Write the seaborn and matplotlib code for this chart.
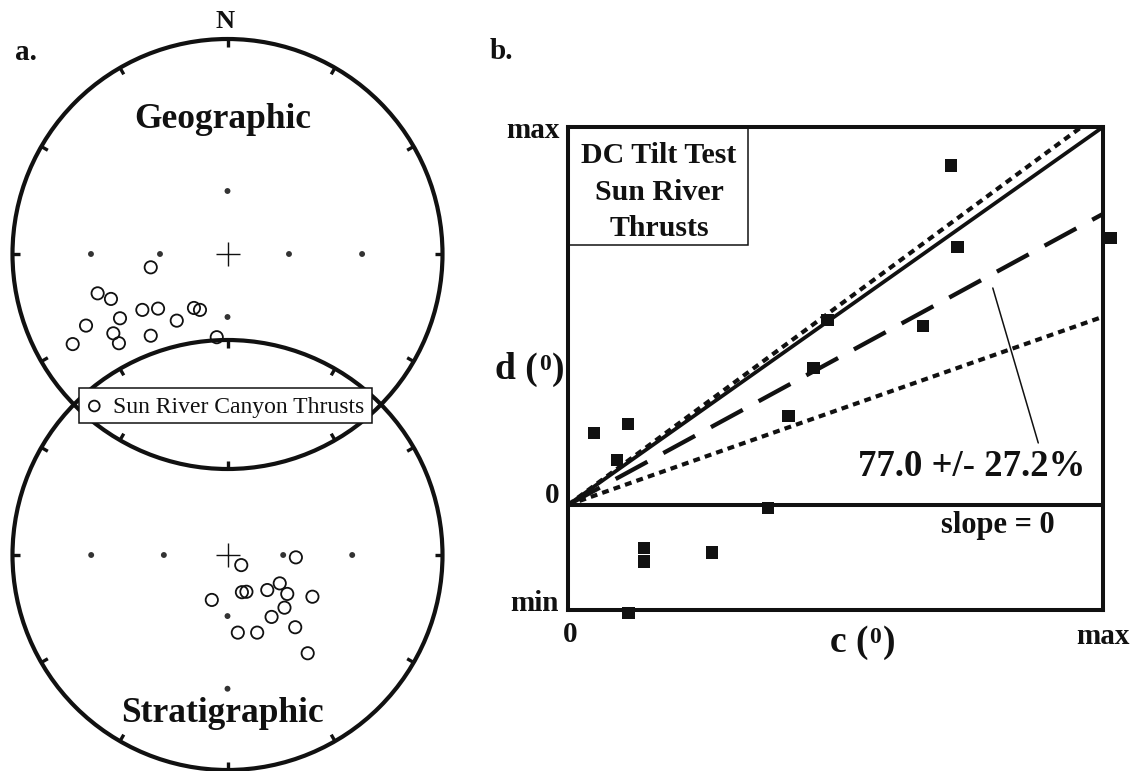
import numpy as np
import pandas as pd
import matplotlib
matplotlib.use("Agg")
import matplotlib.pyplot as plt
from matplotlib.patches import Circle, Rectangle
import seaborn as sns

# ---------------- data ----------------
# site mean directions projected on the nets (east, north in net radius units)
geo_east = [-0.357, -0.604, -0.542, -0.396, -0.323, -0.156, -0.128, -0.500,
            -0.236, -0.658, -0.531, -0.357, -0.505, -0.720, -0.050]
geo_north = [-0.062, -0.183, -0.209, -0.260, -0.254, -0.251, -0.260, -0.299,
             -0.310, -0.333, -0.369, -0.380, -0.415, -0.419, -0.387]
strat_east = [0.318, 0.064, 0.243, 0.067, 0.088, 0.185, 0.278, 0.395,
              -0.073, 0.265, 0.205, 0.048, 0.138, 0.315, 0.373]
strat_north = [-0.011, -0.047, -0.132, -0.173, -0.171, -0.163, -0.181, -0.194,
               -0.209, -0.245, -0.288, -0.361, -0.361, -0.336, -0.457]
# small reference dots on the nets
geo_ref_east = [0.0, -0.635, -0.314, 0.286, 0.626, 0.0]
geo_ref_north = [0.293, 0.0, 0.0, 0.0, 0.0, -0.293]
strat_ref_east = [-0.634, -0.296, 0.259, 0.580, 0.0, 0.0]
strat_ref_north = [0.0, 0.0, 0.0, 0.0, -0.284, -0.622]
net_tick_azimuths = [0, 30, 60, 90, 120, 150, 180, 210, 240, 270, 300, 330]
legend_label = "Sun River Canyon Thrusts"

# DC tilt test: c and d (normalised to max)
tilt_c = [0.049, 0.112, 0.091, 0.485, 0.459, 0.412, 0.374, 0.142, 0.142,
          0.269, 0.113, 0.716, 0.728, 0.663, 1.014]
tilt_d = [0.190, 0.214, 0.119, 0.489, 0.362, 0.235, -0.009, -0.113, -0.150,
          -0.126, -0.285, 0.898, 0.683, 0.474, 0.707]
d_min = -0.278
tilt_best = 77.0   # percent unfolding
tilt_err = 27.2

# ---------------- style ----------------
sns.set_theme(style="white")
plt.rcParams["font.family"] = ["Liberation Serif", "DejaVu Serif"]

INK = "#111111"
W, H = 1133, 771
fig = plt.figure(figsize=(W / 100, H / 100), dpi=100)
fig.patch.set_facecolor("white")


def rect(x0, y0, x1, y1):
    return [x0 / W, 1 - y1 / H, (x1 - x0) / W, (y1 - y0) / H]


# ---------------- left panel: nets ----------------
CX, CY, R = 227.5, 254.0, 215.0
axL = fig.add_axes(rect(0, 0, 460, 771))
axL.set_xlim((0 - CX) / R, (460 - CX) / R)
axL.set_ylim((CY - 771) / R, CY / R)
axL.axis("off")


def P(px, py):
    return ((px - CX) / R, (CY - py) / R)


net_centers = [0.0, (CY - 555.0) / R]
for cy in net_centers:
    axL.add_patch(Circle((0, cy), 1.0, fill=False, lw=3.0, ec=INK, zorder=2))
    for az in net_tick_azimuths:
        a = np.deg2rad(az)
        axL.plot([np.sin(a), 0.965 * np.sin(a)],
                 [cy + np.cos(a), cy + 0.965 * np.cos(a)],
                 color=INK, lw=2.4, solid_capstyle="butt", zorder=2)
    axL.plot([0], [cy], marker="+", markersize=17, mew=1.0, color=INK, zorder=3)

geo_df = pd.DataFrame({"e": geo_east, "n": geo_north})
strat_df = pd.DataFrame({"e": strat_east, "n": [v + net_centers[1] for v in strat_north]})
sns.scatterplot(data=geo_df, x="e", y="n", ax=axL, marker="o", s=78,
                facecolors="none", edgecolor=INK, linewidth=1.3, zorder=4)
sns.scatterplot(data=strat_df, x="e", y="n", ax=axL, marker="o", s=78,
                facecolors="none", edgecolor=INK, linewidth=1.3, zorder=4)
ref_df = pd.DataFrame({"e": geo_ref_east + strat_ref_east,
                       "n": geo_ref_north + [v + net_centers[1] for v in strat_ref_north]})
sns.scatterplot(data=ref_df, x="e", y="n", ax=axL, marker="o", s=18,
                color="#333333", edgecolor="none", zorder=3)

# legend box
lx0, ly1 = P(79, 387.7)
lx1, ly0 = P(372.3, 422.7)
axL.add_patch(Rectangle((lx0, ly0), lx1 - lx0, ly1 - ly0, facecolor="white",
                        edgecolor=INK, lw=1.1, zorder=6))
mx, my = P(94.3, 406)
axL.scatter([mx], [my], s=60, facecolors="none", edgecolors=INK,
            linewidths=1.3, zorder=7)
tx, ty = P(112.7, 413.3)
axL.text(tx, ty, legend_label, fontsize=17, va="baseline", ha="left",
         color=INK, zorder=7)

x, y = P(222.5, 128)
axL.text(x, y, "Geographic", fontsize=25.5, fontweight="bold", ha="center",
         va="baseline", color=INK)
x, y = P(222.5, 721.7)
axL.text(x, y, "Stratigraphic", fontsize=25.5, fontweight="bold", ha="center",
         va="baseline", color=INK)

fig.text(225 / W, 1 - 21 / H, "N", fontsize=19, fontweight="bold",
         ha="center", va="center", color=INK)
fig.text(15 / W, 1 - 60 / H, "a.", fontsize=21, fontweight="bold",
         ha="left", va="baseline", color=INK)
fig.text(490 / W, 1 - 59 / H, "b.", fontsize=21, fontweight="bold",
         ha="left", va="baseline", color=INK)

# ---------------- right panel: DC tilt test ----------------
axR = fig.add_axes(rect(568, 127, 1103, 610))
axR.set_xlim(0, 1)
axR.set_ylim(d_min, 1)
axR.set_xticks([])
axR.set_yticks([])
for sp in axR.spines.values():
    sp.set_linewidth(2.9)
    sp.set_color(INK)
    sp.set_visible(True)
axR.set_facecolor("white")
axR.axhline(0, color=INK, lw=2.9, zorder=2)

s_best = tilt_best / 100.0
s_hi = (tilt_best + tilt_err) / 100.0
s_lo = (tilt_best - tilt_err) / 100.0
axR.plot([0, 1], [0, 1], color=INK, lw=2.7, solid_capstyle="butt", zorder=3)
axR.plot([0, 1 / s_hi], [0, 1], color=INK, lw=3.0,
         linestyle=(0, (1.65, 1.25)), dash_capstyle="butt", zorder=3)
axR.plot([0, 1], [0, s_lo], color=INK, lw=3.0,
         linestyle=(0, (1.65, 1.25)), dash_capstyle="butt", zorder=3)
axR.plot([0, 1], [0, s_best], color=INK, lw=3.1,
         linestyle=(0, (8.4, 4.2)), dash_capstyle="butt", zorder=3)
# leader line to the label
axR.plot([0.794, 0.879], [0.574, 0.164], color=INK, lw=1.1, zorder=3)

tilt_df = pd.DataFrame({"c": tilt_c, "d": tilt_d})
sns.scatterplot(data=tilt_df, x="c", y="d", ax=axR, marker="s", s=78,
                color=INK, edgecolor="none", clip_on=False, zorder=5)
axR.set_xlabel("")
axR.set_ylabel("")

# inset title box
axR.add_patch(Rectangle((0, 0.688), 0.336, 1 - 0.688, fill=False,
                        ec=INK, lw=1.1, zorder=4))
for txt, yy in zip(["DC Tilt Test", "Sun River", "Thrusts"], [0.924, 0.827, 0.731]):
    axR.text(0.170, yy, txt, fontsize=21.5, fontweight="bold", ha="center",
             va="center", color=INK)

axR.text(0.755, 0.077, f"{tilt_best:.1f} +/- {tilt_err:.1f}%", fontsize=26.5,
         fontweight="bold", ha="center", va="baseline", color=INK)
axR.text(0.804, -0.074, "slope = 0", fontsize=22, fontweight="bold",
         ha="center", va="baseline", color=INK)

# axis annotations
fig.text(560 / W, 1 - 138 / H, "max", fontsize=21, fontweight="bold",
         ha="right", va="baseline", color=INK)
fig.text(560 / W, 1 - 503 / H, "0", fontsize=21, fontweight="bold",
         ha="right", va="baseline", color=INK)
fig.text(559 / W, 1 - 611 / H, "min", fontsize=21, fontweight="bold",
         ha="right", va="baseline", color=INK)
fig.text(570.5 / W, 1 - 635 / H, "0", fontsize=21, fontweight="bold",
         ha="center", va="center", color=INK)
fig.text(1103 / W, 1 - 636 / H, "max", fontsize=21, fontweight="bold",
         ha="center", va="center", color=INK)

# axis titles with superscript degree-zero, drawn as bold pieces
renderer = fig.canvas.get_renderer()


def piece_label(letter, x_px, base_px, anchor):
    parts = [(letter + " (", 27, 0.0), ("0", 17, 9.0), (")", 27, 0.0)]
    texts = []
    widths = []
    for s, fs, dy in parts:
        t = fig.text(0, 0, s, fontsize=fs, fontweight="bold", ha="left",
                     va="baseline", color=INK)
        widths.append(t.get_window_extent(renderer).width)
        texts.append((t, dy))
    total = sum(widths)
    if anchor == "right":
        x0 = x_px - total
    else:
        x0 = x_px - total / 2
    cur = x0
    for (t, dy), w in zip(texts, widths):
        t.set_position((cur / W, 1 - (base_px - dy) / H))
        cur += w + 1.0


piece_label("d", 562, 379, "right")
piece_label("c", 861.5, 652, "center")

fig.savefig("out.png", dpi=100, facecolor="white")
